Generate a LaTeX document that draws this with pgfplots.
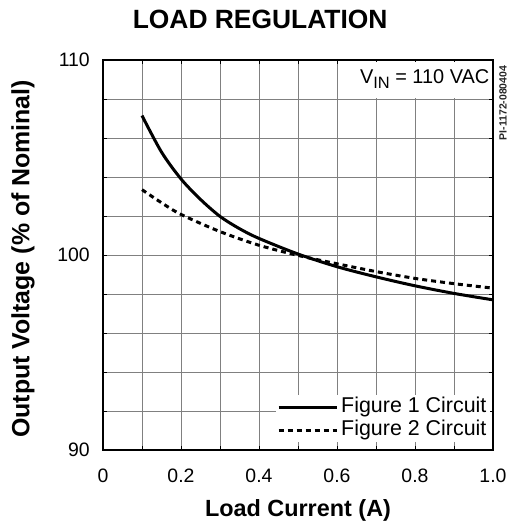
\documentclass[border=0pt]{standalone}
\usepackage{fontspec}
\setmainfont{Liberation Sans}
\usepackage{pgfplots}
\pgfplotsset{compat=1.18}

% solid = Figure 1 circuit, dashed = Figure 2 circuit
\pgfplotstableread{
x y
0.10 107.15
0.15 105.28
0.20 103.90
0.25 102.85
0.30 101.98
0.35 101.35
0.40 100.85
0.50 100.05
0.60 99.40
0.70 98.88
0.80 98.42
0.90 98.03
1.00 97.70
}\figone
\pgfplotstableread{
x y
0.10 103.35
0.15 102.68
0.20 102.08
0.30 101.20
0.40 100.50
0.50 99.98
0.60 99.55
0.70 99.15
0.80 98.80
0.90 98.53
1.00 98.30
}\figtwo

\begin{document}
\begin{tikzpicture}[x=1bp,y=1bp]
\begin{axis}[
    at={(0,0)}, anchor=south west,
    scale only axis, width=390bp, height=390bp,
    xmin=0, xmax=1, ymin=90, ymax=110,
    xtick={0,0.2,0.4,0.6,0.8,1.0}, xticklabels={0,0.2,0.4,0.6,0.8,1.0},
    ytick={90,100,110}, yticklabels={90,100,110},
    minor x tick num=1, minor y tick num=4,
    grid=both,
    grid style={black!50, line width=0.9bp},
    axis line style={line width=2.5bp},
    tick style={black, line width=0.8bp},
    major tick length=4bp, minor tick length=4bp,
    xticklabel style={font=\fontsize{19.5}{19.5}\selectfont, anchor=north, inner sep=0pt, yshift=-19bp},
    yticklabel style={font=\fontsize{19.5}{19.5}\selectfont, anchor=east, inner sep=0pt, xshift=-13bp},
    xlabel={Load Current (A)},
    xlabel style={font=\bfseries\fontsize{23.5}{23.5}\selectfont, at={(axis description cs:0.5,-0.154)}, anchor=center},
    ylabel={Output Voltage (\% of Nominal)},
    ylabel style={font=\bfseries\fontsize{25}{25}\selectfont, at={(axis description cs:-0.205,0.49)}, anchor=center, rotate=0},
    title={LOAD REGULATION},
    title style={font=\bfseries\fontsize{26.5}{26.5}\selectfont, at={(axis description cs:0.403,1.09)}, anchor=center},
    legend style={at={(rel axis cs:0.994,0.02)}, anchor=south east, draw=none, fill=white,
        inner sep=1bp, row sep=1.5bp, font=\fontsize{21.5}{21.5}\selectfont,
        nodes={inner ysep=1bp, inner xsep=3bp, text height=15bp, text depth=4.5bp}},
    legend cell align=left,
    legend image code/.code={\draw[#1] (-6bp,0bp) -- (52bp,0bp);},
]
\addplot[black, line width=3bp, smooth] table[x=x, y=y] {\figone};
\addlegendentry{Figure 1 Circuit}
\addplot[black, line width=3bp, smooth, dash pattern=on 5bp off 4bp] table[x=x, y=y] {\figtwo};
\addlegendentry{Figure 2 Circuit}

\node[anchor=north east, fill=white, inner xsep=2bp, inner ysep=4bp, text height=18bp, text depth=10bp,
      font=\fontsize{20}{20}\selectfont, xshift=-1.5bp, yshift=-1.5bp]
    at (rel axis cs:1,1) {V\raisebox{-5bp}{\fontsize{16.5}{16.5}\selectfont IN} = 110 VAC};
\end{axis}
% drawing number at the right edge
\node[rotate=90, font=\bfseries\fontsize{10.5}{10.5}\selectfont, text=black!85, inner sep=0pt]
    at (400bp,347bp) {PI-1172-080404};
\pgfresetboundingbox
\path[use as bounding box] (-103bp,-79bp) rectangle (406bp,450bp);
\end{tikzpicture}
\end{document}
